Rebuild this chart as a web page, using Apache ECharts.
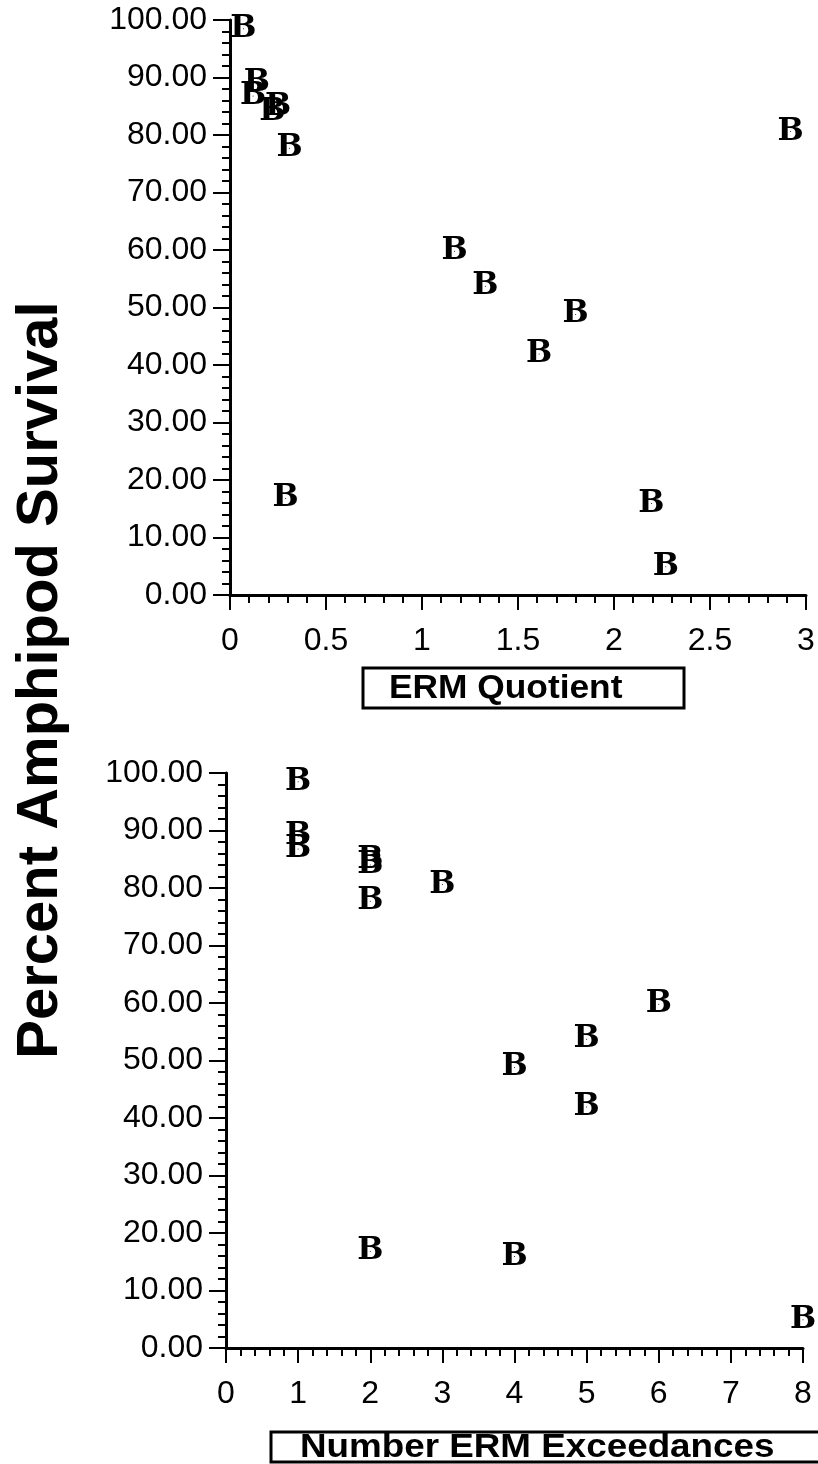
<!DOCTYPE html>
<html>
<head>
<meta charset="utf-8">
<script src="https://cdn.jsdelivr.net/npm/echarts@6/dist/echarts.min.js"></script>
<style>
html,body{margin:0;padding:0;background:#fff;}
#chart{width:818px;height:1464px;}
</style>
</head>
<body>
<div id="chart"></div>
<script>
// Percent amphipod survival for each sample
const survival = [98.5, 89.0, 86.8, 84.0, 84.8, 77.7, 80.6, 59.8, 53.7, 48.8, 41.9, 15.9, 4.9, 16.8];
// ERM quotient for each sample
const ermQuotient = [0.07, 0.14, 0.12, 0.22, 0.25, 0.31, 2.92, 1.17, 1.33, 1.80, 1.61, 2.195, 2.27, 0.29];
// Number of ERM exceedances for each sample
const ermExceedances = [1, 1, 1, 2, 2, 2, 3, 6, 5, 4, 5, 4, 8, 2];

const yTitle = 'Percent Amphipod Survival';
const xTitleTop = 'ERM Quotient';
const xTitleBottom = 'Number ERM Exceedances';
const markerText = 'B';

const sans = '"Liberation Sans", Arial, Helvetica, sans-serif';
const serif = '"DejaVu Serif", "Liberation Serif", serif';

function xAxisCfg(gridIndex, max, interval) {
  return {
    type: 'value', gridIndex, min: 0, max, interval,
    axisLine: { show: true, onZero: false, lineStyle: { color: '#000', width: 3 } },
    axisTick: { show: true, length: 15, lineStyle: { color: '#000', width: 2 } },
    minorTick: { show: true, splitNumber: 5, length: 8, lineStyle: { color: '#000', width: 2 } },
    splitLine: { show: false },
    axisLabel: { color: '#000', fontSize: 32, fontFamily: sans, margin: 30 }
  };
}
function yAxisCfg(gridIndex) {
  return {
    type: 'value', gridIndex, min: 0, max: 100, interval: 10,
    axisLine: { show: true, onZero: false, lineStyle: { color: '#000', width: 3 } },
    axisTick: { show: true, length: 17, lineStyle: { color: '#000', width: 2 } },
    minorTick: { show: true, splitNumber: 5, length: 8, lineStyle: { color: '#000', width: 2 } },
    splitLine: { show: false },
    axisLabel: { color: '#000', fontSize: 32, fontFamily: sans, margin: 23,
      formatter: v => v.toFixed(2) }
  };
}
function markerSeries(xIdx, xs) {
  return {
    type: 'scatter', xAxisIndex: xIdx, yAxisIndex: xIdx,
    data: xs.map((x, i) => [x, survival[i]]),
    symbol: 'circle', symbolSize: 1,
    itemStyle: { color: '#000', opacity: 1 },
    label: { show: true, position: 'inside', formatter: markerText, opacity: 1,
      color: '#000', fontFamily: serif, fontWeight: 'bold', fontSize: 31,
      textBorderWidth: 0 },
    emphasis: { disabled: true },
    silent: true
  };
}

const chart = echarts.init(document.getElementById('chart'), null, { renderer: 'canvas' });
chart.setOption({
  animation: false,
  backgroundColor: '#fff',
  grid: [
    { left: 230, top: 20, width: 576, height: 575 },
    { left: 226, top: 773, width: 577, height: 575 }
  ],
  xAxis: [xAxisCfg(0, 3, 0.5), xAxisCfg(1, 8, 1)],
  yAxis: [yAxisCfg(0), yAxisCfg(1)],
  series: [markerSeries(0, ermQuotient), markerSeries(1, ermExceedances)],
  graphic: [
    { type: 'text', x: 41, y: 680, rotation: Math.PI / 2,
      style: { text: yTitle, fontSize: 58, fontWeight: 'bold', fontFamily: sans,
        fill: '#000', align: 'center', verticalAlign: 'middle' } },
    { type: 'rect', shape: { x: 363, y: 668, width: 321, height: 40 },
      style: { fill: 'none', stroke: '#000', lineWidth: 3 } },
    { type: 'text', x: 389, y: 689, scaleX: 1.07,
      style: { text: xTitleTop, fontSize: 33, fontWeight: 'bold', fontFamily: sans,
        fill: '#000', align: 'left', verticalAlign: 'middle' } },
    { type: 'rect', shape: { x: 271, y: 1432, width: 570, height: 30 },
      style: { fill: 'none', stroke: '#000', lineWidth: 3 } },
    { type: 'text', x: 300, y: 1448, scaleX: 1.115,
      style: { text: xTitleBottom, fontSize: 33, fontWeight: 'bold', fontFamily: sans,
        fill: '#000', align: 'left', verticalAlign: 'middle' } }
  ]
});
</script>
</body>
</html>
